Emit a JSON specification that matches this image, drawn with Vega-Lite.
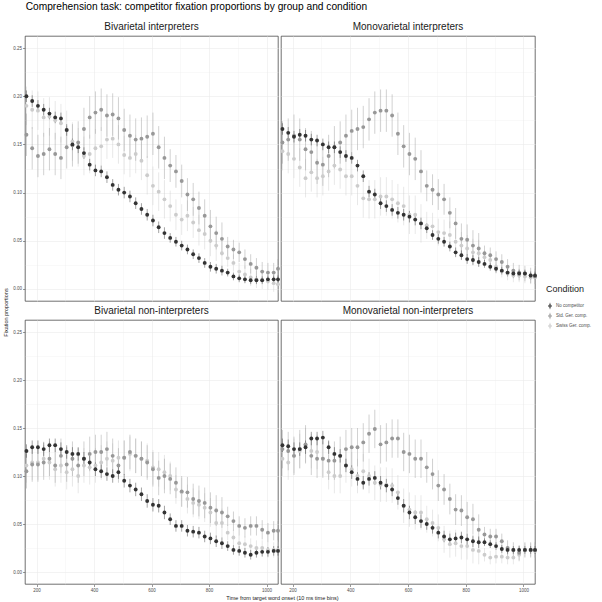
{
  "$schema": "https://vega.github.io/schema/vega-lite/v6.json",
  "padding": {"left": 2, "top": 1, "right": 0, "bottom": 0},
  "title": {"text": "Comprehension task: competitor fixation proportions by group and condition", "anchor": "start", "dx": 23, "fontSize": 10.2, "fontWeight": "normal", "color": "#000000", "offset": 5},
  "config": {
    "font": "Liberation Sans",
    "view": {"stroke": "#333333", "strokeWidth": 0.7},
    "axis": {"domain": false, "gridColor": "#ebebeb", "tickColor": "#333333", "tickSize": 2.5, "tickWidth": 0.5, "labelFontSize": 4.5, "labelColor": "#4d4d4d", "labelPadding": 1, "titleFontSize": 5.5, "titleFontWeight": "normal", "titleColor": "#1a1a1a"},
    "legend": {"orient": "none", "legendX": 521, "legendY": 268, "padding": 0, "titleFontSize": 9, "titleFontWeight": "normal", "titleColor": "#1a1a1a", "titlePadding": 8, "labelFontSize": 4.5, "labelColor": "#4d4d4d", "labelOffset": 2, "rowPadding": 0, "symbolSize": 40, "symbolStrokeWidth": 0.8, "symbolType": "M0,-1V1M-0.45,0A0.45,0.45 0 1 1 0.45,0A0.45,0.45 0 1 1 -0.45,0Z"}
  },
  "data": {"values": [
    {"p":"BI","c":"W","t":165,"y":0.19,"e":0.02},{"p":"BI","c":"W","t":185,"y":0.186,"e":0.02},{"p":"BI","c":"W","t":205,"y":0.185,"e":0.02},{"p":"BI","c":"W","t":225,"y":0.178,"e":0.02},{"p":"BI","c":"W","t":245,"y":0.179,"e":0.02},
    {"p":"BI","c":"W","t":265,"y":0.175,"e":0.02},{"p":"BI","c":"W","t":285,"y":0.172,"e":0.02},{"p":"BI","c":"W","t":305,"y":0.165,"e":0.02},{"p":"BI","c":"W","t":325,"y":0.153,"e":0.02},{"p":"BI","c":"W","t":345,"y":0.147,"e":0.02},
    {"p":"BI","c":"W","t":365,"y":0.138,"e":0.02},{"p":"BI","c":"W","t":385,"y":0.14,"e":0.02},{"p":"BI","c":"W","t":405,"y":0.146,"e":0.02},{"p":"BI","c":"W","t":425,"y":0.148,"e":0.02},{"p":"BI","c":"W","t":445,"y":0.155,"e":0.02},
    {"p":"BI","c":"W","t":465,"y":0.156,"e":0.02},{"p":"BI","c":"W","t":485,"y":0.15,"e":0.02},{"p":"BI","c":"W","t":505,"y":0.139,"e":0.02},{"p":"BI","c":"W","t":525,"y":0.136,"e":0.02},{"p":"BI","c":"W","t":545,"y":0.14,"e":0.02},
    {"p":"BI","c":"W","t":565,"y":0.133,"e":0.02},{"p":"BI","c":"W","t":585,"y":0.118,"e":0.02},{"p":"BI","c":"W","t":605,"y":0.107,"e":0.02},{"p":"BI","c":"W","t":625,"y":0.101,"e":0.02},{"p":"BI","c":"W","t":645,"y":0.093,"e":0.02},
    {"p":"BI","c":"W","t":665,"y":0.086,"e":0.016},{"p":"BI","c":"W","t":685,"y":0.077,"e":0.016},{"p":"BI","c":"W","t":705,"y":0.072,"e":0.016},{"p":"BI","c":"W","t":725,"y":0.076,"e":0.016},{"p":"BI","c":"W","t":745,"y":0.069,"e":0.016},
    {"p":"BI","c":"W","t":765,"y":0.061,"e":0.016},{"p":"BI","c":"W","t":785,"y":0.057,"e":0.016},{"p":"BI","c":"W","t":805,"y":0.05,"e":0.016},{"p":"BI","c":"W","t":825,"y":0.045,"e":0.016},{"p":"BI","c":"W","t":845,"y":0.037,"e":0.016},
    {"p":"BI","c":"W","t":865,"y":0.032,"e":0.009},{"p":"BI","c":"W","t":885,"y":0.027,"e":0.009},{"p":"BI","c":"W","t":905,"y":0.018,"e":0.009},{"p":"BI","c":"W","t":925,"y":0.015,"e":0.009},{"p":"BI","c":"W","t":945,"y":0.012,"e":0.009},
    {"p":"BI","c":"W","t":965,"y":0.01,"e":0.009},{"p":"BI","c":"W","t":985,"y":0.009,"e":0.009},{"p":"BI","c":"W","t":1005,"y":0.008,"e":0.009},{"p":"BI","c":"W","t":1025,"y":0.006,"e":0.009},{"p":"BI","c":"W","t":1040,"y":0.005,"e":0.009},
    {"p":"BI","c":"S","t":165,"y":0.16,"e":0.022},{"p":"BI","c":"S","t":185,"y":0.146,"e":0.022},{"p":"BI","c":"S","t":205,"y":0.138,"e":0.022},{"p":"BI","c":"S","t":225,"y":0.14,"e":0.022},{"p":"BI","c":"S","t":245,"y":0.145,"e":0.022},
    {"p":"BI","c":"S","t":265,"y":0.14,"e":0.022},{"p":"BI","c":"S","t":285,"y":0.136,"e":0.022},{"p":"BI","c":"S","t":305,"y":0.147,"e":0.022},{"p":"BI","c":"S","t":325,"y":0.149,"e":0.022},{"p":"BI","c":"S","t":345,"y":0.152,"e":0.022},
    {"p":"BI","c":"S","t":365,"y":0.166,"e":0.022},{"p":"BI","c":"S","t":385,"y":0.178,"e":0.022},{"p":"BI","c":"S","t":405,"y":0.183,"e":0.022},{"p":"BI","c":"S","t":425,"y":0.186,"e":0.022},{"p":"BI","c":"S","t":445,"y":0.18,"e":0.022},
    {"p":"BI","c":"S","t":465,"y":0.181,"e":0.022},{"p":"BI","c":"S","t":485,"y":0.177,"e":0.022},{"p":"BI","c":"S","t":505,"y":0.165,"e":0.022},{"p":"BI","c":"S","t":525,"y":0.159,"e":0.022},{"p":"BI","c":"S","t":545,"y":0.155,"e":0.022},
    {"p":"BI","c":"S","t":565,"y":0.156,"e":0.022},{"p":"BI","c":"S","t":585,"y":0.158,"e":0.022},{"p":"BI","c":"S","t":605,"y":0.161,"e":0.022},{"p":"BI","c":"S","t":625,"y":0.147,"e":0.022},{"p":"BI","c":"S","t":645,"y":0.136,"e":0.022},
    {"p":"BI","c":"S","t":665,"y":0.128,"e":0.017},{"p":"BI","c":"S","t":685,"y":0.122,"e":0.017},{"p":"BI","c":"S","t":705,"y":0.112,"e":0.017},{"p":"BI","c":"S","t":725,"y":0.098,"e":0.017},{"p":"BI","c":"S","t":745,"y":0.093,"e":0.017},
    {"p":"BI","c":"S","t":765,"y":0.084,"e":0.017},{"p":"BI","c":"S","t":785,"y":0.076,"e":0.017},{"p":"BI","c":"S","t":805,"y":0.065,"e":0.017},{"p":"BI","c":"S","t":825,"y":0.058,"e":0.017},{"p":"BI","c":"S","t":845,"y":0.052,"e":0.017},
    {"p":"BI","c":"S","t":865,"y":0.044,"e":0.01},{"p":"BI","c":"S","t":885,"y":0.041,"e":0.01},{"p":"BI","c":"S","t":905,"y":0.038,"e":0.01},{"p":"BI","c":"S","t":925,"y":0.031,"e":0.01},{"p":"BI","c":"S","t":945,"y":0.026,"e":0.01},
    {"p":"BI","c":"S","t":965,"y":0.022,"e":0.01},{"p":"BI","c":"S","t":985,"y":0.018,"e":0.01},{"p":"BI","c":"S","t":1005,"y":0.017,"e":0.01},{"p":"BI","c":"S","t":1025,"y":0.017,"e":0.01},{"p":"BI","c":"S","t":1040,"y":0.021,"e":0.01},
    {"p":"BI","c":"N","t":165,"y":0.2,"e":0.006},{"p":"BI","c":"N","t":185,"y":0.195,"e":0.006},{"p":"BI","c":"N","t":205,"y":0.19,"e":0.006},{"p":"BI","c":"N","t":225,"y":0.186,"e":0.006},{"p":"BI","c":"N","t":245,"y":0.182,"e":0.006},
    {"p":"BI","c":"N","t":265,"y":0.178,"e":0.006},{"p":"BI","c":"N","t":285,"y":0.177,"e":0.006},{"p":"BI","c":"N","t":305,"y":0.165,"e":0.006},{"p":"BI","c":"N","t":325,"y":0.15,"e":0.006},{"p":"BI","c":"N","t":345,"y":0.147,"e":0.006},
    {"p":"BI","c":"N","t":365,"y":0.141,"e":0.006},{"p":"BI","c":"N","t":385,"y":0.129,"e":0.006},{"p":"BI","c":"N","t":405,"y":0.123,"e":0.006},{"p":"BI","c":"N","t":425,"y":0.122,"e":0.006},{"p":"BI","c":"N","t":445,"y":0.116,"e":0.006},
    {"p":"BI","c":"N","t":465,"y":0.108,"e":0.006},{"p":"BI","c":"N","t":485,"y":0.103,"e":0.006},{"p":"BI","c":"N","t":505,"y":0.1,"e":0.006},{"p":"BI","c":"N","t":525,"y":0.096,"e":0.006},{"p":"BI","c":"N","t":545,"y":0.089,"e":0.006},
    {"p":"BI","c":"N","t":565,"y":0.083,"e":0.006},{"p":"BI","c":"N","t":585,"y":0.077,"e":0.006},{"p":"BI","c":"N","t":605,"y":0.071,"e":0.006},{"p":"BI","c":"N","t":625,"y":0.064,"e":0.006},{"p":"BI","c":"N","t":645,"y":0.058,"e":0.006},
    {"p":"BI","c":"N","t":665,"y":0.053,"e":0.005},{"p":"BI","c":"N","t":685,"y":0.049,"e":0.005},{"p":"BI","c":"N","t":705,"y":0.045,"e":0.005},{"p":"BI","c":"N","t":725,"y":0.041,"e":0.005},{"p":"BI","c":"N","t":745,"y":0.036,"e":0.005},
    {"p":"BI","c":"N","t":765,"y":0.032,"e":0.005},{"p":"BI","c":"N","t":785,"y":0.027,"e":0.005},{"p":"BI","c":"N","t":805,"y":0.023,"e":0.005},{"p":"BI","c":"N","t":825,"y":0.021,"e":0.005},{"p":"BI","c":"N","t":845,"y":0.019,"e":0.005},
    {"p":"BI","c":"N","t":865,"y":0.017,"e":0.004},{"p":"BI","c":"N","t":885,"y":0.013,"e":0.004},{"p":"BI","c":"N","t":905,"y":0.011,"e":0.004},{"p":"BI","c":"N","t":925,"y":0.01,"e":0.004},{"p":"BI","c":"N","t":945,"y":0.009,"e":0.004},
    {"p":"BI","c":"N","t":965,"y":0.009,"e":0.004},{"p":"BI","c":"N","t":985,"y":0.009,"e":0.004},{"p":"BI","c":"N","t":1005,"y":0.01,"e":0.004},{"p":"BI","c":"N","t":1025,"y":0.01,"e":0.004},{"p":"BI","c":"N","t":1040,"y":0.01,"e":0.004},

    {"p":"MI","c":"W","t":165,"y":0.143,"e":0.02},{"p":"MI","c":"W","t":185,"y":0.14,"e":0.02},{"p":"MI","c":"W","t":205,"y":0.135,"e":0.02},{"p":"MI","c":"W","t":225,"y":0.126,"e":0.02},{"p":"MI","c":"W","t":245,"y":0.115,"e":0.02},
    {"p":"MI","c":"W","t":265,"y":0.121,"e":0.02},{"p":"MI","c":"W","t":285,"y":0.115,"e":0.02},{"p":"MI","c":"W","t":305,"y":0.117,"e":0.02},{"p":"MI","c":"W","t":325,"y":0.122,"e":0.02},{"p":"MI","c":"W","t":345,"y":0.128,"e":0.02},
    {"p":"MI","c":"W","t":365,"y":0.124,"e":0.02},{"p":"MI","c":"W","t":385,"y":0.117,"e":0.02},{"p":"MI","c":"W","t":405,"y":0.117,"e":0.02},{"p":"MI","c":"W","t":425,"y":0.107,"e":0.02},{"p":"MI","c":"W","t":445,"y":0.094,"e":0.02},
    {"p":"MI","c":"W","t":465,"y":0.093,"e":0.02},{"p":"MI","c":"W","t":485,"y":0.093,"e":0.02},{"p":"MI","c":"W","t":505,"y":0.096,"e":0.02},{"p":"MI","c":"W","t":525,"y":0.096,"e":0.02},{"p":"MI","c":"W","t":545,"y":0.093,"e":0.02},
    {"p":"MI","c":"W","t":565,"y":0.089,"e":0.02},{"p":"MI","c":"W","t":585,"y":0.086,"e":0.02},{"p":"MI","c":"W","t":605,"y":0.077,"e":0.02},{"p":"MI","c":"W","t":625,"y":0.077,"e":0.02},{"p":"MI","c":"W","t":645,"y":0.068,"e":0.02},
    {"p":"MI","c":"W","t":665,"y":0.066,"e":0.014},{"p":"MI","c":"W","t":685,"y":0.065,"e":0.014},{"p":"MI","c":"W","t":705,"y":0.059,"e":0.014},{"p":"MI","c":"W","t":725,"y":0.058,"e":0.014},{"p":"MI","c":"W","t":745,"y":0.056,"e":0.014},
    {"p":"MI","c":"W","t":765,"y":0.049,"e":0.014},{"p":"MI","c":"W","t":785,"y":0.045,"e":0.014},{"p":"MI","c":"W","t":805,"y":0.042,"e":0.014},{"p":"MI","c":"W","t":825,"y":0.038,"e":0.014},{"p":"MI","c":"W","t":845,"y":0.037,"e":0.014},
    {"p":"MI","c":"W","t":865,"y":0.033,"e":0.007},{"p":"MI","c":"W","t":885,"y":0.03,"e":0.007},{"p":"MI","c":"W","t":905,"y":0.023,"e":0.007},{"p":"MI","c":"W","t":925,"y":0.019,"e":0.007},{"p":"MI","c":"W","t":945,"y":0.016,"e":0.007},
    {"p":"MI","c":"W","t":965,"y":0.014,"e":0.007},{"p":"MI","c":"W","t":985,"y":0.014,"e":0.007},{"p":"MI","c":"W","t":1005,"y":0.013,"e":0.007},{"p":"MI","c":"W","t":1025,"y":0.012,"e":0.007},{"p":"MI","c":"W","t":1040,"y":0.012,"e":0.007},
    {"p":"MI","c":"S","t":165,"y":0.152,"e":0.022},{"p":"MI","c":"S","t":185,"y":0.155,"e":0.022},{"p":"MI","c":"S","t":205,"y":0.159,"e":0.022},{"p":"MI","c":"S","t":225,"y":0.155,"e":0.022},{"p":"MI","c":"S","t":245,"y":0.145,"e":0.022},
    {"p":"MI","c":"S","t":265,"y":0.142,"e":0.022},{"p":"MI","c":"S","t":285,"y":0.131,"e":0.022},{"p":"MI","c":"S","t":305,"y":0.129,"e":0.022},{"p":"MI","c":"S","t":325,"y":0.138,"e":0.022},{"p":"MI","c":"S","t":345,"y":0.147,"e":0.022},
    {"p":"MI","c":"S","t":365,"y":0.152,"e":0.022},{"p":"MI","c":"S","t":385,"y":0.159,"e":0.022},{"p":"MI","c":"S","t":405,"y":0.164,"e":0.022},{"p":"MI","c":"S","t":425,"y":0.166,"e":0.022},{"p":"MI","c":"S","t":445,"y":0.168,"e":0.022},
    {"p":"MI","c":"S","t":465,"y":0.176,"e":0.022},{"p":"MI","c":"S","t":485,"y":0.183,"e":0.022},{"p":"MI","c":"S","t":505,"y":0.185,"e":0.022},{"p":"MI","c":"S","t":525,"y":0.185,"e":0.022},{"p":"MI","c":"S","t":545,"y":0.18,"e":0.022},
    {"p":"MI","c":"S","t":565,"y":0.161,"e":0.022},{"p":"MI","c":"S","t":585,"y":0.148,"e":0.022},{"p":"MI","c":"S","t":605,"y":0.14,"e":0.022},{"p":"MI","c":"S","t":625,"y":0.135,"e":0.022},{"p":"MI","c":"S","t":645,"y":0.122,"e":0.022},
    {"p":"MI","c":"S","t":665,"y":0.107,"e":0.016},{"p":"MI","c":"S","t":685,"y":0.103,"e":0.016},{"p":"MI","c":"S","t":705,"y":0.098,"e":0.016},{"p":"MI","c":"S","t":725,"y":0.093,"e":0.016},{"p":"MI","c":"S","t":745,"y":0.079,"e":0.016},
    {"p":"MI","c":"S","t":765,"y":0.068,"e":0.016},{"p":"MI","c":"S","t":785,"y":0.052,"e":0.016},{"p":"MI","c":"S","t":805,"y":0.051,"e":0.016},{"p":"MI","c":"S","t":825,"y":0.045,"e":0.016},{"p":"MI","c":"S","t":845,"y":0.042,"e":0.016},
    {"p":"MI","c":"S","t":865,"y":0.037,"e":0.008},{"p":"MI","c":"S","t":885,"y":0.035,"e":0.008},{"p":"MI","c":"S","t":905,"y":0.031,"e":0.008},{"p":"MI","c":"S","t":925,"y":0.028,"e":0.008},{"p":"MI","c":"S","t":945,"y":0.023,"e":0.008},
    {"p":"MI","c":"S","t":965,"y":0.019,"e":0.008},{"p":"MI","c":"S","t":985,"y":0.017,"e":0.008},{"p":"MI","c":"S","t":1005,"y":0.016,"e":0.008},{"p":"MI","c":"S","t":1025,"y":0.014,"e":0.008},{"p":"MI","c":"S","t":1040,"y":0.013,"e":0.008},
    {"p":"MI","c":"N","t":165,"y":0.166,"e":0.006},{"p":"MI","c":"N","t":185,"y":0.162,"e":0.006},{"p":"MI","c":"N","t":205,"y":0.158,"e":0.006},{"p":"MI","c":"N","t":225,"y":0.16,"e":0.006},{"p":"MI","c":"N","t":245,"y":0.159,"e":0.006},
    {"p":"MI","c":"N","t":265,"y":0.155,"e":0.006},{"p":"MI","c":"N","t":285,"y":0.154,"e":0.006},{"p":"MI","c":"N","t":305,"y":0.15,"e":0.006},{"p":"MI","c":"N","t":325,"y":0.147,"e":0.006},{"p":"MI","c":"N","t":345,"y":0.147,"e":0.006},
    {"p":"MI","c":"N","t":365,"y":0.142,"e":0.006},{"p":"MI","c":"N","t":385,"y":0.138,"e":0.006},{"p":"MI","c":"N","t":405,"y":0.136,"e":0.006},{"p":"MI","c":"N","t":425,"y":0.128,"e":0.006},{"p":"MI","c":"N","t":445,"y":0.117,"e":0.006},
    {"p":"MI","c":"N","t":465,"y":0.101,"e":0.006},{"p":"MI","c":"N","t":485,"y":0.098,"e":0.006},{"p":"MI","c":"N","t":505,"y":0.089,"e":0.006},{"p":"MI","c":"N","t":525,"y":0.086,"e":0.006},{"p":"MI","c":"N","t":545,"y":0.082,"e":0.006},
    {"p":"MI","c":"N","t":565,"y":0.079,"e":0.006},{"p":"MI","c":"N","t":585,"y":0.077,"e":0.006},{"p":"MI","c":"N","t":605,"y":0.075,"e":0.006},{"p":"MI","c":"N","t":625,"y":0.072,"e":0.006},{"p":"MI","c":"N","t":645,"y":0.068,"e":0.006},
    {"p":"MI","c":"N","t":665,"y":0.063,"e":0.005},{"p":"MI","c":"N","t":685,"y":0.056,"e":0.005},{"p":"MI","c":"N","t":705,"y":0.052,"e":0.005},{"p":"MI","c":"N","t":725,"y":0.049,"e":0.005},{"p":"MI","c":"N","t":745,"y":0.044,"e":0.005},
    {"p":"MI","c":"N","t":765,"y":0.038,"e":0.005},{"p":"MI","c":"N","t":785,"y":0.035,"e":0.005},{"p":"MI","c":"N","t":805,"y":0.031,"e":0.005},{"p":"MI","c":"N","t":825,"y":0.03,"e":0.005},{"p":"MI","c":"N","t":845,"y":0.028,"e":0.005},
    {"p":"MI","c":"N","t":865,"y":0.026,"e":0.004},{"p":"MI","c":"N","t":885,"y":0.023,"e":0.004},{"p":"MI","c":"N","t":905,"y":0.021,"e":0.004},{"p":"MI","c":"N","t":925,"y":0.019,"e":0.004},{"p":"MI","c":"N","t":945,"y":0.017,"e":0.004},
    {"p":"MI","c":"N","t":965,"y":0.016,"e":0.004},{"p":"MI","c":"N","t":985,"y":0.016,"e":0.004},{"p":"MI","c":"N","t":1005,"y":0.016,"e":0.004},{"p":"MI","c":"N","t":1025,"y":0.014,"e":0.004},{"p":"MI","c":"N","t":1040,"y":0.014,"e":0.004},

    {"p":"BN","c":"W","t":165,"y":0.111,"e":0.018},{"p":"BN","c":"W","t":185,"y":0.114,"e":0.018},{"p":"BN","c":"W","t":205,"y":0.114,"e":0.018},{"p":"BN","c":"W","t":225,"y":0.118,"e":0.018},{"p":"BN","c":"W","t":245,"y":0.114,"e":0.018},
    {"p":"BN","c":"W","t":265,"y":0.107,"e":0.018},{"p":"BN","c":"W","t":285,"y":0.111,"e":0.018},{"p":"BN","c":"W","t":305,"y":0.104,"e":0.018},{"p":"BN","c":"W","t":325,"y":0.107,"e":0.018},{"p":"BN","c":"W","t":345,"y":0.1,"e":0.018},
    {"p":"BN","c":"W","t":365,"y":0.111,"e":0.018},{"p":"BN","c":"W","t":385,"y":0.109,"e":0.018},{"p":"BN","c":"W","t":405,"y":0.111,"e":0.018},{"p":"BN","c":"W","t":425,"y":0.114,"e":0.018},{"p":"BN","c":"W","t":445,"y":0.118,"e":0.018},
    {"p":"BN","c":"W","t":465,"y":0.116,"e":0.018},{"p":"BN","c":"W","t":485,"y":0.119,"e":0.018},{"p":"BN","c":"W","t":505,"y":0.119,"e":0.018},{"p":"BN","c":"W","t":525,"y":0.123,"e":0.018},{"p":"BN","c":"W","t":545,"y":0.121,"e":0.018},
    {"p":"BN","c":"W","t":565,"y":0.118,"e":0.018},{"p":"BN","c":"W","t":585,"y":0.116,"e":0.018},{"p":"BN","c":"W","t":605,"y":0.109,"e":0.018},{"p":"BN","c":"W","t":625,"y":0.107,"e":0.018},{"p":"BN","c":"W","t":645,"y":0.104,"e":0.018},
    {"p":"BN","c":"W","t":665,"y":0.1,"e":0.015},{"p":"BN","c":"W","t":685,"y":0.086,"e":0.015},{"p":"BN","c":"W","t":705,"y":0.083,"e":0.015},{"p":"BN","c":"W","t":725,"y":0.076,"e":0.015},{"p":"BN","c":"W","t":745,"y":0.072,"e":0.015},
    {"p":"BN","c":"W","t":765,"y":0.07,"e":0.015},{"p":"BN","c":"W","t":785,"y":0.067,"e":0.015},{"p":"BN","c":"W","t":805,"y":0.062,"e":0.015},{"p":"BN","c":"W","t":825,"y":0.051,"e":0.015},{"p":"BN","c":"W","t":845,"y":0.051,"e":0.015},
    {"p":"BN","c":"W","t":865,"y":0.041,"e":0.008},{"p":"BN","c":"W","t":885,"y":0.036,"e":0.008},{"p":"BN","c":"W","t":905,"y":0.03,"e":0.008},{"p":"BN","c":"W","t":925,"y":0.029,"e":0.008},{"p":"BN","c":"W","t":945,"y":0.027,"e":0.008},
    {"p":"BN","c":"W","t":965,"y":0.025,"e":0.008},{"p":"BN","c":"W","t":985,"y":0.025,"e":0.008},{"p":"BN","c":"W","t":1005,"y":0.023,"e":0.008},{"p":"BN","c":"W","t":1025,"y":0.023,"e":0.008},{"p":"BN","c":"W","t":1040,"y":0.023,"e":0.008},
    {"p":"BN","c":"S","t":165,"y":0.105,"e":0.018},{"p":"BN","c":"S","t":185,"y":0.112,"e":0.018},{"p":"BN","c":"S","t":205,"y":0.112,"e":0.018},{"p":"BN","c":"S","t":225,"y":0.114,"e":0.018},{"p":"BN","c":"S","t":245,"y":0.118,"e":0.018},
    {"p":"BN","c":"S","t":265,"y":0.111,"e":0.018},{"p":"BN","c":"S","t":285,"y":0.121,"e":0.018},{"p":"BN","c":"S","t":305,"y":0.112,"e":0.018},{"p":"BN","c":"S","t":325,"y":0.118,"e":0.018},{"p":"BN","c":"S","t":345,"y":0.111,"e":0.018},
    {"p":"BN","c":"S","t":365,"y":0.118,"e":0.018},{"p":"BN","c":"S","t":385,"y":0.123,"e":0.018},{"p":"BN","c":"S","t":405,"y":0.125,"e":0.018},{"p":"BN","c":"S","t":425,"y":0.125,"e":0.018},{"p":"BN","c":"S","t":445,"y":0.128,"e":0.018},
    {"p":"BN","c":"S","t":465,"y":0.121,"e":0.018},{"p":"BN","c":"S","t":485,"y":0.111,"e":0.018},{"p":"BN","c":"S","t":505,"y":0.119,"e":0.018},{"p":"BN","c":"S","t":525,"y":0.125,"e":0.018},{"p":"BN","c":"S","t":545,"y":0.121,"e":0.018},
    {"p":"BN","c":"S","t":565,"y":0.118,"e":0.018},{"p":"BN","c":"S","t":585,"y":0.114,"e":0.018},{"p":"BN","c":"S","t":605,"y":0.107,"e":0.018},{"p":"BN","c":"S","t":625,"y":0.098,"e":0.018},{"p":"BN","c":"S","t":645,"y":0.1,"e":0.018},
    {"p":"BN","c":"S","t":665,"y":0.097,"e":0.016},{"p":"BN","c":"S","t":685,"y":0.093,"e":0.016},{"p":"BN","c":"S","t":705,"y":0.084,"e":0.016},{"p":"BN","c":"S","t":725,"y":0.083,"e":0.016},{"p":"BN","c":"S","t":745,"y":0.076,"e":0.016},
    {"p":"BN","c":"S","t":765,"y":0.074,"e":0.016},{"p":"BN","c":"S","t":785,"y":0.072,"e":0.016},{"p":"BN","c":"S","t":805,"y":0.067,"e":0.016},{"p":"BN","c":"S","t":825,"y":0.064,"e":0.016},{"p":"BN","c":"S","t":845,"y":0.062,"e":0.016},
    {"p":"BN","c":"S","t":865,"y":0.058,"e":0.01},{"p":"BN","c":"S","t":885,"y":0.053,"e":0.01},{"p":"BN","c":"S","t":905,"y":0.048,"e":0.01},{"p":"BN","c":"S","t":925,"y":0.046,"e":0.01},{"p":"BN","c":"S","t":945,"y":0.048,"e":0.01},
    {"p":"BN","c":"S","t":965,"y":0.048,"e":0.01},{"p":"BN","c":"S","t":985,"y":0.044,"e":0.01},{"p":"BN","c":"S","t":1005,"y":0.041,"e":0.01},{"p":"BN","c":"S","t":1025,"y":0.043,"e":0.01},{"p":"BN","c":"S","t":1040,"y":0.043,"e":0.01},
    {"p":"BN","c":"N","t":165,"y":0.126,"e":0.007},{"p":"BN","c":"N","t":185,"y":0.13,"e":0.007},{"p":"BN","c":"N","t":205,"y":0.13,"e":0.007},{"p":"BN","c":"N","t":225,"y":0.128,"e":0.007},{"p":"BN","c":"N","t":245,"y":0.132,"e":0.007},
    {"p":"BN","c":"N","t":265,"y":0.132,"e":0.007},{"p":"BN","c":"N","t":285,"y":0.128,"e":0.007},{"p":"BN","c":"N","t":305,"y":0.125,"e":0.007},{"p":"BN","c":"N","t":325,"y":0.123,"e":0.007},{"p":"BN","c":"N","t":345,"y":0.123,"e":0.007},
    {"p":"BN","c":"N","t":365,"y":0.118,"e":0.007},{"p":"BN","c":"N","t":385,"y":0.114,"e":0.007},{"p":"BN","c":"N","t":405,"y":0.107,"e":0.007},{"p":"BN","c":"N","t":425,"y":0.105,"e":0.007},{"p":"BN","c":"N","t":445,"y":0.102,"e":0.007},
    {"p":"BN","c":"N","t":465,"y":0.1,"e":0.007},{"p":"BN","c":"N","t":485,"y":0.104,"e":0.007},{"p":"BN","c":"N","t":505,"y":0.095,"e":0.007},{"p":"BN","c":"N","t":525,"y":0.09,"e":0.007},{"p":"BN","c":"N","t":545,"y":0.086,"e":0.007},
    {"p":"BN","c":"N","t":565,"y":0.081,"e":0.007},{"p":"BN","c":"N","t":585,"y":0.074,"e":0.007},{"p":"BN","c":"N","t":605,"y":0.07,"e":0.007},{"p":"BN","c":"N","t":625,"y":0.069,"e":0.007},{"p":"BN","c":"N","t":645,"y":0.062,"e":0.007},
    {"p":"BN","c":"N","t":665,"y":0.055,"e":0.006},{"p":"BN","c":"N","t":685,"y":0.048,"e":0.006},{"p":"BN","c":"N","t":705,"y":0.048,"e":0.006},{"p":"BN","c":"N","t":725,"y":0.043,"e":0.006},{"p":"BN","c":"N","t":745,"y":0.042,"e":0.006},
    {"p":"BN","c":"N","t":765,"y":0.041,"e":0.006},{"p":"BN","c":"N","t":785,"y":0.037,"e":0.006},{"p":"BN","c":"N","t":805,"y":0.035,"e":0.006},{"p":"BN","c":"N","t":825,"y":0.032,"e":0.006},{"p":"BN","c":"N","t":845,"y":0.03,"e":0.006},
    {"p":"BN","c":"N","t":865,"y":0.027,"e":0.005},{"p":"BN","c":"N","t":885,"y":0.023,"e":0.005},{"p":"BN","c":"N","t":905,"y":0.022,"e":0.005},{"p":"BN","c":"N","t":925,"y":0.02,"e":0.005},{"p":"BN","c":"N","t":945,"y":0.018,"e":0.005},
    {"p":"BN","c":"N","t":965,"y":0.02,"e":0.005},{"p":"BN","c":"N","t":985,"y":0.021,"e":0.005},{"p":"BN","c":"N","t":1005,"y":0.021,"e":0.005},{"p":"BN","c":"N","t":1025,"y":0.022,"e":0.005},{"p":"BN","c":"N","t":1040,"y":0.022,"e":0.005},

    {"p":"MN","c":"W","t":165,"y":0.118,"e":0.018},{"p":"MN","c":"W","t":185,"y":0.114,"e":0.018},{"p":"MN","c":"W","t":205,"y":0.121,"e":0.018},{"p":"MN","c":"W","t":225,"y":0.126,"e":0.018},{"p":"MN","c":"W","t":245,"y":0.132,"e":0.018},
    {"p":"MN","c":"W","t":265,"y":0.126,"e":0.018},{"p":"MN","c":"W","t":285,"y":0.125,"e":0.018},{"p":"MN","c":"W","t":305,"y":0.118,"e":0.018},{"p":"MN","c":"W","t":325,"y":0.104,"e":0.018},{"p":"MN","c":"W","t":345,"y":0.1,"e":0.018},
    {"p":"MN","c":"W","t":365,"y":0.1,"e":0.018},{"p":"MN","c":"W","t":385,"y":0.111,"e":0.018},{"p":"MN","c":"W","t":405,"y":0.107,"e":0.018},{"p":"MN","c":"W","t":425,"y":0.1,"e":0.018},{"p":"MN","c":"W","t":445,"y":0.105,"e":0.018},
    {"p":"MN","c":"W","t":465,"y":0.1,"e":0.018},{"p":"MN","c":"W","t":485,"y":0.093,"e":0.018},{"p":"MN","c":"W","t":505,"y":0.091,"e":0.018},{"p":"MN","c":"W","t":525,"y":0.091,"e":0.018},{"p":"MN","c":"W","t":545,"y":0.09,"e":0.018},
    {"p":"MN","c":"W","t":565,"y":0.083,"e":0.018},{"p":"MN","c":"W","t":585,"y":0.069,"e":0.018},{"p":"MN","c":"W","t":605,"y":0.065,"e":0.018},{"p":"MN","c":"W","t":625,"y":0.062,"e":0.018},{"p":"MN","c":"W","t":645,"y":0.062,"e":0.018},
    {"p":"MN","c":"W","t":665,"y":0.055,"e":0.014},{"p":"MN","c":"W","t":685,"y":0.051,"e":0.014},{"p":"MN","c":"W","t":705,"y":0.046,"e":0.014},{"p":"MN","c":"W","t":725,"y":0.034,"e":0.014},{"p":"MN","c":"W","t":745,"y":0.029,"e":0.014},
    {"p":"MN","c":"W","t":765,"y":0.03,"e":0.014},{"p":"MN","c":"W","t":785,"y":0.027,"e":0.014},{"p":"MN","c":"W","t":805,"y":0.027,"e":0.014},{"p":"MN","c":"W","t":825,"y":0.023,"e":0.014},{"p":"MN","c":"W","t":845,"y":0.022,"e":0.014},
    {"p":"MN","c":"W","t":865,"y":0.018,"e":0.007},{"p":"MN","c":"W","t":885,"y":0.015,"e":0.007},{"p":"MN","c":"W","t":905,"y":0.016,"e":0.007},{"p":"MN","c":"W","t":925,"y":0.016,"e":0.007},{"p":"MN","c":"W","t":945,"y":0.015,"e":0.007},
    {"p":"MN","c":"W","t":965,"y":0.015,"e":0.007},{"p":"MN","c":"W","t":985,"y":0.018,"e":0.007},{"p":"MN","c":"W","t":1005,"y":0.023,"e":0.007},{"p":"MN","c":"W","t":1025,"y":0.023,"e":0.007},{"p":"MN","c":"W","t":1040,"y":0.022,"e":0.007},
    {"p":"MN","c":"S","t":165,"y":0.128,"e":0.02},{"p":"MN","c":"S","t":185,"y":0.126,"e":0.02},{"p":"MN","c":"S","t":205,"y":0.121,"e":0.02},{"p":"MN","c":"S","t":225,"y":0.128,"e":0.02},{"p":"MN","c":"S","t":245,"y":0.133,"e":0.02},
    {"p":"MN","c":"S","t":265,"y":0.121,"e":0.02},{"p":"MN","c":"S","t":285,"y":0.118,"e":0.02},{"p":"MN","c":"S","t":305,"y":0.118,"e":0.02},{"p":"MN","c":"S","t":325,"y":0.116,"e":0.02},{"p":"MN","c":"S","t":345,"y":0.116,"e":0.02},
    {"p":"MN","c":"S","t":365,"y":0.121,"e":0.02},{"p":"MN","c":"S","t":385,"y":0.128,"e":0.02},{"p":"MN","c":"S","t":405,"y":0.13,"e":0.02},{"p":"MN","c":"S","t":425,"y":0.13,"e":0.02},{"p":"MN","c":"S","t":445,"y":0.135,"e":0.02},
    {"p":"MN","c":"S","t":465,"y":0.144,"e":0.02},{"p":"MN","c":"S","t":485,"y":0.149,"e":0.02},{"p":"MN","c":"S","t":505,"y":0.133,"e":0.02},{"p":"MN","c":"S","t":525,"y":0.135,"e":0.02},{"p":"MN","c":"S","t":545,"y":0.139,"e":0.02},
    {"p":"MN","c":"S","t":565,"y":0.139,"e":0.02},{"p":"MN","c":"S","t":585,"y":0.125,"e":0.02},{"p":"MN","c":"S","t":605,"y":0.123,"e":0.02},{"p":"MN","c":"S","t":625,"y":0.118,"e":0.02},{"p":"MN","c":"S","t":645,"y":0.118,"e":0.02},
    {"p":"MN","c":"S","t":665,"y":0.109,"e":0.016},{"p":"MN","c":"S","t":685,"y":0.102,"e":0.016},{"p":"MN","c":"S","t":705,"y":0.09,"e":0.016},{"p":"MN","c":"S","t":725,"y":0.086,"e":0.016},{"p":"MN","c":"S","t":745,"y":0.076,"e":0.016},
    {"p":"MN","c":"S","t":765,"y":0.065,"e":0.016},{"p":"MN","c":"S","t":785,"y":0.064,"e":0.016},{"p":"MN","c":"S","t":805,"y":0.057,"e":0.016},{"p":"MN","c":"S","t":825,"y":0.055,"e":0.016},{"p":"MN","c":"S","t":845,"y":0.044,"e":0.016},
    {"p":"MN","c":"S","t":865,"y":0.039,"e":0.008},{"p":"MN","c":"S","t":885,"y":0.037,"e":0.008},{"p":"MN","c":"S","t":905,"y":0.037,"e":0.008},{"p":"MN","c":"S","t":925,"y":0.032,"e":0.008},{"p":"MN","c":"S","t":945,"y":0.025,"e":0.008},
    {"p":"MN","c":"S","t":965,"y":0.023,"e":0.008},{"p":"MN","c":"S","t":985,"y":0.02,"e":0.008},{"p":"MN","c":"S","t":1005,"y":0.023,"e":0.008},{"p":"MN","c":"S","t":1025,"y":0.023,"e":0.008},{"p":"MN","c":"S","t":1040,"y":0.023,"e":0.008},
    {"p":"MN","c":"N","t":165,"y":0.132,"e":0.007},{"p":"MN","c":"N","t":185,"y":0.131,"e":0.007},{"p":"MN","c":"N","t":205,"y":0.128,"e":0.007},{"p":"MN","c":"N","t":225,"y":0.128,"e":0.007},{"p":"MN","c":"N","t":245,"y":0.13,"e":0.007},
    {"p":"MN","c":"N","t":265,"y":0.139,"e":0.007},{"p":"MN","c":"N","t":285,"y":0.139,"e":0.007},{"p":"MN","c":"N","t":305,"y":0.14,"e":0.007},{"p":"MN","c":"N","t":325,"y":0.13,"e":0.007},{"p":"MN","c":"N","t":345,"y":0.123,"e":0.007},
    {"p":"MN","c":"N","t":365,"y":0.121,"e":0.007},{"p":"MN","c":"N","t":385,"y":0.111,"e":0.007},{"p":"MN","c":"N","t":405,"y":0.104,"e":0.007},{"p":"MN","c":"N","t":425,"y":0.097,"e":0.007},{"p":"MN","c":"N","t":445,"y":0.093,"e":0.007},
    {"p":"MN","c":"N","t":465,"y":0.097,"e":0.007},{"p":"MN","c":"N","t":485,"y":0.098,"e":0.007},{"p":"MN","c":"N","t":505,"y":0.093,"e":0.007},{"p":"MN","c":"N","t":525,"y":0.09,"e":0.007},{"p":"MN","c":"N","t":545,"y":0.086,"e":0.007},
    {"p":"MN","c":"N","t":565,"y":0.077,"e":0.007},{"p":"MN","c":"N","t":585,"y":0.069,"e":0.007},{"p":"MN","c":"N","t":605,"y":0.062,"e":0.007},{"p":"MN","c":"N","t":625,"y":0.057,"e":0.007},{"p":"MN","c":"N","t":645,"y":0.053,"e":0.007},
    {"p":"MN","c":"N","t":665,"y":0.05,"e":0.006},{"p":"MN","c":"N","t":685,"y":0.046,"e":0.006},{"p":"MN","c":"N","t":705,"y":0.041,"e":0.006},{"p":"MN","c":"N","t":725,"y":0.037,"e":0.006},{"p":"MN","c":"N","t":745,"y":0.034,"e":0.006},
    {"p":"MN","c":"N","t":765,"y":0.035,"e":0.006},{"p":"MN","c":"N","t":785,"y":0.036,"e":0.006},{"p":"MN","c":"N","t":805,"y":0.034,"e":0.006},{"p":"MN","c":"N","t":825,"y":0.032,"e":0.006},{"p":"MN","c":"N","t":845,"y":0.031,"e":0.006},
    {"p":"MN","c":"N","t":865,"y":0.031,"e":0.004},{"p":"MN","c":"N","t":885,"y":0.029,"e":0.004},{"p":"MN","c":"N","t":905,"y":0.027,"e":0.004},{"p":"MN","c":"N","t":925,"y":0.024,"e":0.004},{"p":"MN","c":"N","t":945,"y":0.023,"e":0.004},
    {"p":"MN","c":"N","t":965,"y":0.023,"e":0.004},{"p":"MN","c":"N","t":985,"y":0.023,"e":0.004},{"p":"MN","c":"N","t":1005,"y":0.023,"e":0.004},{"p":"MN","c":"N","t":1025,"y":0.023,"e":0.004},{"p":"MN","c":"N","t":1040,"y":0.023,"e":0.004}
  ]},
  "columns": 2,
  "spacing": {"row": 0, "column": 3},
  "bounds": "flush",
  "concat": [
    {"data": {"values": [{"label": "Bivarietal interpreters"}]}, "width": 253, "height": 19, "mark": {"type": "text", "fontSize": 10, "color": "#1a1a1a"}, "encoding": {"text": {"field": "label"}}},
    {"data": {"values": [{"label": "Monovarietal interpreters"}]}, "width": 254, "height": 19, "mark": {"type": "text", "fontSize": 10, "color": "#1a1a1a"}, "encoding": {"text": {"field": "label"}}},
    {
      "width": 253, "height": 265,
      "transform": [{"filter": "datum.p == 'BI'"}],
      "encoding": {
        "x": {"field": "t", "type": "quantitative", "scale": {"domain": [160, 1040], "nice": false, "zero": false},
          "axis": {"values": [200, 300, 400, 500, 600, 700, 800, 900, 1000], "labels": false, "ticks": false, "title": null,
            "gridWidth": {"condition": {"test": "datum.value % 200 == 0", "value": 0.6}, "value": 0.3}}},
        "y": {"field": "y", "type": "quantitative", "scale": {"domain": [-0.0125, 0.2625], "nice": false, "zero": false},
          "axis": {"values": [0, 0.025, 0.05, 0.075, 0.1, 0.125, 0.15, 0.175, 0.2, 0.225, 0.25], "title": null,
            "labelExpr": "round(datum.value * 1000) % 50 == 0 ? format(datum.value, '.2f') : ''",
            "tickOpacity": {"condition": {"test": "round(datum.value * 1000) % 50 == 0", "value": 1}, "value": 0},
            "gridWidth": {"condition": {"test": "round(datum.value * 1000) % 50 == 0", "value": 0.6}, "value": 0.3}}},
        "color": {"field": "c", "type": "nominal", "scale": {"domain": ["N", "S", "W"], "range": ["#333333", "#989898", "#cccccc"]},
          "legend": {"title": "Condition", "labelExpr": "datum.value == 'N' ? 'No competitor' : datum.value == 'S' ? 'Std. Ger. comp.' : 'Swiss Ger. comp.'",
            "encode": {"symbols": {"update": {"stroke": {"scale": "color", "field": "value"}}}}}}
      },
      "layer": [
        {"mark": {"type": "errorbar", "thickness": 0.6, "rule": {"opacity": 0.75}}, "encoding": {"yError": {"field": "e"}}},
        {"mark": {"type": "point", "filled": true, "size": 15, "opacity": 1}}
      ]
    },
    {
      "width": 254, "height": 265,
      "transform": [{"filter": "datum.p == 'MI'"}],
      "encoding": {
        "x": {"field": "t", "type": "quantitative", "scale": {"domain": [160, 1040], "nice": false, "zero": false},
          "axis": {"values": [200, 300, 400, 500, 600, 700, 800, 900, 1000], "labels": false, "ticks": false, "title": null,
            "gridWidth": {"condition": {"test": "datum.value % 200 == 0", "value": 0.6}, "value": 0.3}}},
        "y": {"field": "y", "type": "quantitative", "scale": {"domain": [-0.0125, 0.2625], "nice": false, "zero": false},
          "axis": {"values": [0, 0.025, 0.05, 0.075, 0.1, 0.125, 0.15, 0.175, 0.2, 0.225, 0.25], "title": null, "labels": false, "ticks": false,
            "gridWidth": {"condition": {"test": "round(datum.value * 1000) % 50 == 0", "value": 0.6}, "value": 0.3}}},
        "color": {"field": "c", "type": "nominal", "scale": {"domain": ["N", "S", "W"], "range": ["#333333", "#989898", "#cccccc"]},
          "legend": {"title": "Condition", "labelExpr": "datum.value == 'N' ? 'No competitor' : datum.value == 'S' ? 'Std. Ger. comp.' : 'Swiss Ger. comp.'",
            "encode": {"symbols": {"update": {"stroke": {"scale": "color", "field": "value"}}}}}}
      },
      "layer": [
        {"mark": {"type": "errorbar", "thickness": 0.6, "rule": {"opacity": 0.75}}, "encoding": {"yError": {"field": "e"}}},
        {"mark": {"type": "point", "filled": true, "size": 15, "opacity": 1}}
      ]
    },
    {"data": {"values": [{"label": "Bivarietal non-interpreters"}]}, "width": 253, "height": 19, "mark": {"type": "text", "fontSize": 10, "color": "#1a1a1a"}, "encoding": {"text": {"field": "label"}}},
    {"data": {"values": [{"label": "Monovarietal non-interpreters"}]}, "width": 254, "height": 19, "mark": {"type": "text", "fontSize": 10, "color": "#1a1a1a"}, "encoding": {"text": {"field": "label"}}},
    {
      "width": 253, "height": 264,
      "transform": [{"filter": "datum.p == 'BN'"}],
      "encoding": {
        "x": {"field": "t", "type": "quantitative", "scale": {"domain": [160, 1040], "nice": false, "zero": false},
          "axis": {"values": [200, 300, 400, 500, 600, 700, 800, 900, 1000], "format": "d",
            "labelExpr": "datum.value % 200 == 0 ? datum.label : ''",
            "tickOpacity": {"condition": {"test": "datum.value % 200 == 0", "value": 1}, "value": 0},
            "gridWidth": {"condition": {"test": "datum.value % 200 == 0", "value": 0.6}, "value": 0.3},
            "title": "Time from target word onset (10 ms time bins)", "titleX": 257, "titleY": 13, "titleAlign": "center", "titleBaseline": "middle"}},
        "y": {"field": "y", "type": "quantitative", "scale": {"domain": [-0.0125, 0.2625], "nice": false, "zero": false},
          "axis": {"values": [0, 0.025, 0.05, 0.075, 0.1, 0.125, 0.15, 0.175, 0.2, 0.225, 0.25],
            "labelExpr": "round(datum.value * 1000) % 50 == 0 ? format(datum.value, '.2f') : ''",
            "tickOpacity": {"condition": {"test": "round(datum.value * 1000) % 50 == 0", "value": 1}, "value": 0},
            "gridWidth": {"condition": {"test": "round(datum.value * 1000) % 50 == 0", "value": 0.6}, "value": 0.3},
            "title": "Fixation proportions", "titleX": -20, "titleY": -8, "titleAngle": 270, "titleAlign": "center", "titleBaseline": "middle"}},
        "color": {"field": "c", "type": "nominal", "scale": {"domain": ["N", "S", "W"], "range": ["#333333", "#989898", "#cccccc"]},
          "legend": {"title": "Condition", "labelExpr": "datum.value == 'N' ? 'No competitor' : datum.value == 'S' ? 'Std. Ger. comp.' : 'Swiss Ger. comp.'",
            "encode": {"symbols": {"update": {"stroke": {"scale": "color", "field": "value"}}}}}}
      },
      "layer": [
        {"mark": {"type": "errorbar", "thickness": 0.6, "rule": {"opacity": 0.75}}, "encoding": {"yError": {"field": "e"}}},
        {"mark": {"type": "point", "filled": true, "size": 15, "opacity": 1}}
      ]
    },
    {
      "width": 254, "height": 264,
      "transform": [{"filter": "datum.p == 'MN'"}],
      "encoding": {
        "x": {"field": "t", "type": "quantitative", "scale": {"domain": [160, 1040], "nice": false, "zero": false},
          "axis": {"values": [200, 300, 400, 500, 600, 700, 800, 900, 1000], "format": "d", "title": null,
            "labelExpr": "datum.value % 200 == 0 ? datum.label : ''",
            "tickOpacity": {"condition": {"test": "datum.value % 200 == 0", "value": 1}, "value": 0},
            "gridWidth": {"condition": {"test": "datum.value % 200 == 0", "value": 0.6}, "value": 0.3}}},
        "y": {"field": "y", "type": "quantitative", "scale": {"domain": [-0.0125, 0.2625], "nice": false, "zero": false},
          "axis": {"values": [0, 0.025, 0.05, 0.075, 0.1, 0.125, 0.15, 0.175, 0.2, 0.225, 0.25], "title": null, "labels": false, "ticks": false,
            "gridWidth": {"condition": {"test": "round(datum.value * 1000) % 50 == 0", "value": 0.6}, "value": 0.3}}},
        "color": {"field": "c", "type": "nominal", "scale": {"domain": ["N", "S", "W"], "range": ["#333333", "#989898", "#cccccc"]},
          "legend": {"title": "Condition", "labelExpr": "datum.value == 'N' ? 'No competitor' : datum.value == 'S' ? 'Std. Ger. comp.' : 'Swiss Ger. comp.'",
            "encode": {"symbols": {"update": {"stroke": {"scale": "color", "field": "value"}}}}}}
      },
      "layer": [
        {"mark": {"type": "errorbar", "thickness": 0.6, "rule": {"opacity": 0.75}}, "encoding": {"yError": {"field": "e"}}},
        {"mark": {"type": "point", "filled": true, "size": 15, "opacity": 1}}
      ]
    }
  ]
}
